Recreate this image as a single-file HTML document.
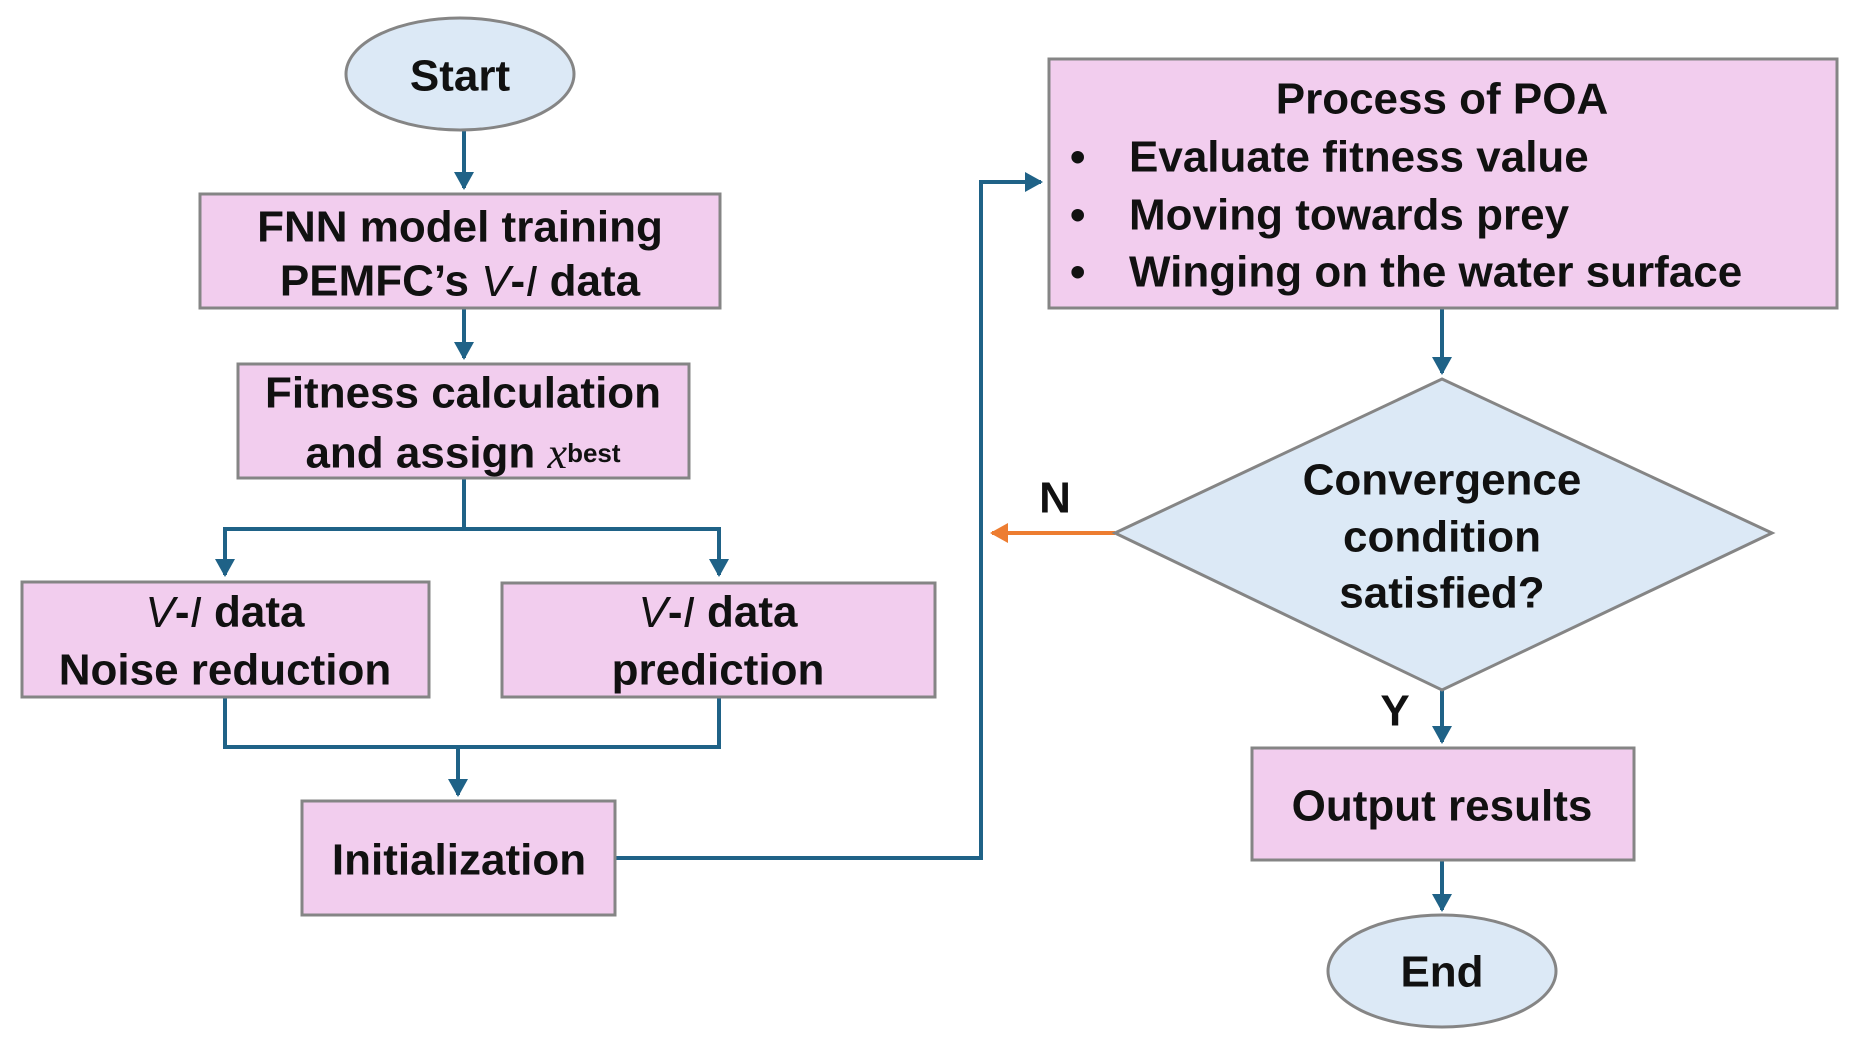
<!DOCTYPE html>
<html><head><meta charset="utf-8"><style>
html,body{margin:0;padding:0;background:#fff;}
svg{display:block;}
text{font-family:"Liberation Sans",sans-serif;font-weight:bold;font-size:44px;fill:#111;}
</style></head><body>
<svg width="1866" height="1048" viewBox="0 0 1866 1048" xmlns="http://www.w3.org/2000/svg">
<defs>
<marker id="a" markerWidth="6" markerHeight="6" refX="4" refY="3" orient="auto" markerUnits="strokeWidth">
<path d="M0,0.5 L4.5,3 L0,5.5 z" fill="#1f6287"/></marker>
<marker id="o" markerWidth="6" markerHeight="6" refX="4" refY="3" orient="auto" markerUnits="strokeWidth">
<path d="M0,0.5 L4.5,3 L0,5.5 z" fill="#ed7d31"/></marker>
</defs>
<g fill="none" stroke="#1f6287" stroke-width="4">
<line x1="464" y1="131" x2="464" y2="188" marker-end="url(#a)"/>
<line x1="464" y1="309" x2="464" y2="358" marker-end="url(#a)"/>
<polyline points="464,479 464,529 225,529 225,575" marker-end="url(#a)"/>
<polyline points="464,529 719,529 719,575" marker-end="url(#a)"/>
<polyline points="225,698 225,747 719,747 719,698"/>
<line x1="458" y1="747" x2="458" y2="795" marker-end="url(#a)"/>
<polyline points="616,858 981,858 981,182 1041,182" marker-end="url(#a)"/>
<line x1="1442" y1="309" x2="1442" y2="373" marker-end="url(#a)"/>
<line x1="1442" y1="690" x2="1442" y2="742" marker-end="url(#a)"/>
<line x1="1442" y1="861" x2="1442" y2="910" marker-end="url(#a)"/>
<line x1="1115" y1="533" x2="992" y2="533" stroke="#ed7d31" marker-end="url(#o)"/>
</g>
<g stroke="#858585" stroke-width="3">
<ellipse cx="460" cy="74" rx="114" ry="56" fill="#dce9f6"/>
<rect x="200" y="194" width="520" height="114" fill="#f2cdee"/>
<rect x="238" y="364" width="451" height="114" fill="#f2cdee"/>
<rect x="22" y="582" width="407" height="115" fill="#f2cdee"/>
<rect x="502" y="583" width="433" height="114" fill="#f2cdee"/>
<rect x="302" y="801" width="313" height="114" fill="#f2cdee"/>
<rect x="1049" y="59" width="788" height="249" fill="#f2cdee"/>
<polygon points="1442,379 1772,533 1442,690 1115,533" fill="#dce9f6"/>
<rect x="1252" y="748" width="382" height="112" fill="#f2cdee"/>
<ellipse cx="1442" cy="971" rx="114" ry="56" fill="#dce9f6"/>
</g>
<g text-anchor="middle" dominant-baseline="central">
<text x="460" y="76">Start</text>
<text x="460" y="227">FNN model training</text>
<text x="460" y="281">PEMFC’s <tspan font-style="italic" font-weight="normal">V</tspan>-<tspan font-style="italic" font-weight="normal">I</tspan> data</text>
<text x="463" y="393">Fitness calculation</text>
<text x="463" y="453">and assign <tspan font-style="italic" font-weight="normal" font-family="Liberation Serif">x</tspan><tspan font-size="26">best</tspan></text>
<text x="225" y="612"><tspan font-style="italic" font-weight="normal">V</tspan>-<tspan font-style="italic" font-weight="normal">I</tspan> data</text>
<text x="225" y="670">Noise reduction</text>
<text x="718" y="612"><tspan font-style="italic" font-weight="normal">V</tspan>-<tspan font-style="italic" font-weight="normal">I</tspan> data</text>
<text x="718" y="670">prediction</text>
<text x="459" y="860">Initialization</text>
<text x="1442" y="99">Process of POA</text>
<text x="1442" y="480">Convergence</text>
<text x="1442" y="537">condition</text>
<text x="1442" y="593">satisfied?</text>
<text x="1442" y="806">Output results</text>
<text x="1442" y="972">End</text>
<text x="1055" y="498" font-weight="normal">N</text>
<text x="1395" y="711" font-weight="normal">Y</text>
</g>
<g dominant-baseline="central">
<text x="1070" y="157">•</text><text x="1129" y="157">Evaluate fitness value</text>
<text x="1070" y="215">•</text><text x="1129" y="215">Moving towards prey</text>
<text x="1070" y="272">•</text><text x="1129" y="272">Winging on the water surface</text>
</g>
</svg>
</body></html>
